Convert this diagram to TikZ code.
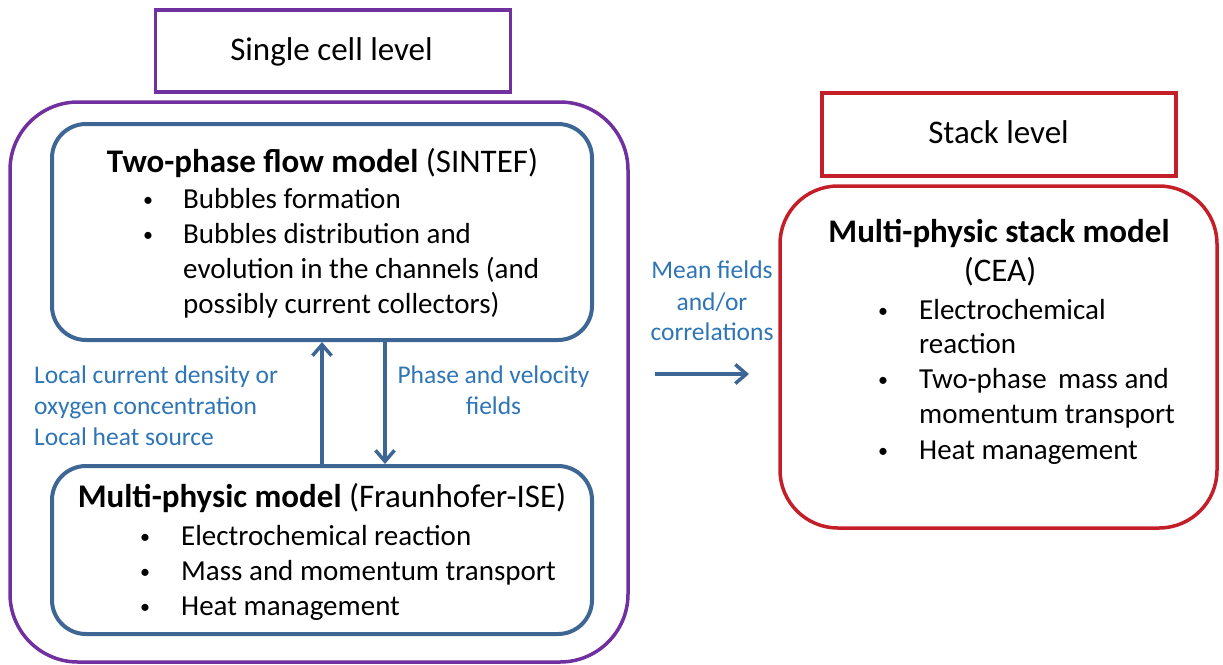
\documentclass[tikz,border=0pt]{standalone}
\usepackage{fontspec}
\setmainfont{Carlito}
\usetikzlibrary{arrows.meta}
\definecolor{purp}{RGB}{112,48,160}
\definecolor{bbox}{RGB}{62,102,148}
\definecolor{rbox}{RGB}{196,30,40}
\definecolor{lblue}{RGB}{46,117,182}
\tikzset{
  purpbox/.style={draw=purp,line width=3.5pt},
  bluebox/.style={draw=bbox,line width=4pt,rounded corners=34pt},
  redbox/.style={draw=rbox,line width=3.5pt},
  big/.style={font=\fontsize{29}{35}\selectfont,inner sep=0pt},
  ttl/.style={font=\fontsize{33}{40}\selectfont,inner sep=0pt,anchor=base},
  lab/.style={font=\fontsize{25.5}{31}\selectfont,text=lblue,inner sep=0pt},
  bul/.style={font=\fontsize{20}{24}\selectfont,inner sep=0pt,anchor=base},
  itm/.style={big,anchor=base west},
  arr/.style={draw=bbox,line width=4pt,-{Straight Barb[length=11pt,width=19pt,line width=3.5pt]}}
}
\begin{document}
\begin{tikzpicture}[x=1pt,y=-1pt]
\useasboundingbox (0,0) rectangle (1223,664);
% Single cell level
\node[purpbox,minimum width=355pt,minimum height=82pt,inner sep=0pt] (single) at (333,51) {};
\node[ttl] (singlet) at (331.5,60) {Single cell level};
\draw[purpbox,rounded corners=68pt] (10,102) rectangle (628,662);
% Two-phase box
\node[bluebox,minimum width=540pt,minimum height=216pt,inner sep=0pt] (tp) at (322,232) {};
\node[ttl] (tpt) at (322.5,172) {\textbf{Two-phase flow model} (SINTEF)};
\node[bul] (tpb1) at (148,206) {•};
\node[itm] (tpi1) at (183,208) {Bubbles formation};
\node[bul] (tpb2) at (148,241) {•};
\node[itm] (tpi2) at (183,243) {Bubbles distribution and};
\node[itm] (tpi3) at (183,278) {evolution in the channels (and};
\node[itm] (tpi4) at (183,313) {possibly current collectors)};
% Multi-physic box
\node[bluebox,minimum width=540pt,minimum height=168pt,inner sep=0pt] (mp) at (322,550) {};
\node[ttl] (mpt) at (322,507) {\textbf{Multi-physic model} (Fraunhofer-ISE)};
\node[bul] (mpb1) at (145,543) {•};
\node[itm] (mpi1) at (181,545) {Electrochemical reaction};
\node[bul] (mpb2) at (145,578) {•};
\node[itm] (mpi2) at (181,580) {Mass and momentum transport};
\node[bul] (mpb3) at (145,613) {•};
\node[itm] (mpi3) at (181,615) {Heat management};
% vertical arrows
\coordinate (upx) at (322,0);
\coordinate (dnx) at (385,0);
\draw[arr] (mp.north -| upx) -- (tp.south -| upx);
\draw[arr] (tp.south -| dnx) -- (mp.north -| dnx);
\node[lab,anchor=base west] (l1) at (34,383) {Local current density or};
\node[lab,anchor=base west] (l2) at (34,414) {oxygen concentration};
\node[lab,anchor=base west] (l3) at (34,445) {Local heat source};
\node[lab,anchor=base] (r1) at (493.5,383) {Phase and velocity};
\node[lab,anchor=base] (r2) at (493.5,414) {fields};
% Stack level
\node[redbox,minimum width=354pt,minimum height=83pt,inner sep=0pt] (stack) at (999,134.5) {};
\node[ttl] (stackt) at (998.5,143) {Stack level};
\node[redbox,rounded corners=58pt,minimum width=437pt,minimum height=342pt,inner sep=0pt] (sm) at (998.5,357) {};
\node[ttl] (smt) at (999,242) {\textbf{Multi-physic stack model}};
\node[ttl] (smt2) at (1000,281) {(CEA)};
\node[bul] (smb1) at (883,317) {•};
\node[itm] (smi1) at (919,319) {Electrochemical};
\node[itm] (smi2) at (919,353) {reaction};
\node[bul] (smb2) at (883,386) {•};
\node[itm] (smi3) at (919,388) {Two-phase\, mass and};
\node[itm] (smi4) at (919,423) {momentum transport};
\node[bul] (smb3) at (883,457) {•};
\node[itm] (smi5) at (919,459) {Heat management};
% Mean fields
\node[lab,anchor=base] (m1) at (712,278) {Mean fields};
\node[lab,anchor=base] (m2) at (712,310) {and/or};
\node[lab,anchor=base] (m3) at (712,340) {correlations};
\coordinate (ma) at (655,374);
\coordinate (mb) at (749,374);
\draw[arr] (ma) -- (mb);
\end{tikzpicture}
\end{document}
